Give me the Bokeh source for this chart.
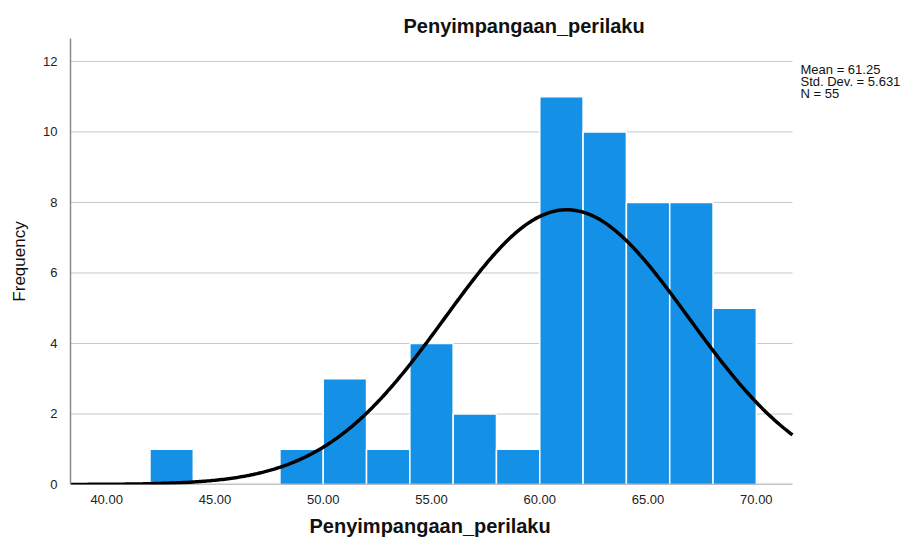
import numpy as np
from bokeh.plotting import figure
from bokeh.models import Range1d, FixedTicker, CustomJSTickFormatter, ColumnDataSource, Label, Title
from bokeh.embed import file_html
from bokeh.resources import INLINE

# ---- data ----
bin_left = [42, 44, 46, 48, 50, 52, 54, 56, 58, 60, 62, 64, 66, 68]
bin_width = 2
counts = [1, 0, 0, 1, 3, 1, 4, 2, 1, 11, 10, 8, 8, 5]
x_ticks = [40, 45, 50, 55, 60, 65, 70]
y_ticks = [0, 2, 4, 6, 8, 10, 12]
mean_val = 61.25
sd_val = 5.631
n_val = 55
title_text = "Penyimpangaan_perilaku"
x_label = "Penyimpangaan_perilaku"
y_label = "Frequency"
stats_lines = ["Mean = 61.25", "Std. Dev. = 5.631", "N = 55"]

FONT = "Liberation Sans"
X0, X1 = 38.33, 71.67          # extent of the chart's own axis
PX_PER_UNIT = 722 / (X1 - X0)  # plot area is 722 px wide
X_END = X1 + 115 / PX_PER_UNIT  # frame continues under the statistics text

p = figure(width=907, height=539, output_backend="svg", toolbar_location=None,
           x_range=Range1d(X0, X_END), y_range=Range1d(0, 12.65),
           min_border_left=70, min_border_right=0, min_border_top=38, min_border_bottom=55)
p.outline_line_color = None
p.background_fill_color = "white"

# title
p.title.text = title_text
p.title.align = "left"
p.title.offset = 333
p.title.text_font = FONT
p.title.text_font_size = "20px"
p.title.text_font_style = "bold"
p.title.text_color = "#111111"
p.title.standoff = 4

# horizontal grid lines limited to the axis extent
grid_y = [t for t in y_ticks if t > 0]
p.segment(x0=[X0] * len(grid_y), x1=[X1] * len(grid_y), y0=grid_y, y1=grid_y,
          line_color="#c8c8c8", line_width=1)

# bars
lefts = [l for l, c in zip(bin_left, counts) if c > 0]
tops = [c for c in counts if c > 0]
src = ColumnDataSource(dict(left=lefts, right=[l + bin_width for l in lefts], top=tops,
                            bottom=[0] * len(tops)))
p.quad(left="left", right="right", top="top", bottom="bottom", source=src,
       fill_color="#1490E6", line_color="white", line_width=1.5)

# bottom axis line limited to the axis extent
p.segment(x0=[X0], x1=[X1], y0=[0], y1=[0], line_color="#8a8a8a", line_width=1.5)

# normal curve from the shown statistics
xs = np.linspace(X0, X1, 400)
ys = n_val * bin_width / (sd_val * np.sqrt(2 * np.pi)) * np.exp(-0.5 * ((xs - mean_val) / sd_val) ** 2)
p.line(xs, ys, line_color="black", line_width=3.5)

# axes
p.xaxis.ticker = FixedTicker(ticks=x_ticks)
p.xaxis.formatter = CustomJSTickFormatter(code="return tick.toFixed(2);")
p.yaxis.ticker = FixedTicker(ticks=y_ticks)
for ax in (p.xaxis, p.yaxis):
    ax.major_tick_line_color = None
    ax.minor_tick_line_color = None
    ax.major_label_text_font = FONT
    ax.major_label_text_font_size = "13px"
    ax.major_label_text_color = "#222222"
p.xaxis.axis_line_color = None
p.yaxis.axis_line_color = "#8a8a8a"
p.yaxis.axis_line_width = 1.5
p.xaxis.major_label_standoff = 4
p.yaxis.major_label_standoff = 7

# x axis title, centred under the axis extent
p.add_layout(Title(text=x_label, align="left", offset=239, text_font=FONT,
                   text_font_size="20px", text_font_style="bold", text_color="#111111",
                   standoff=0, padding=dict(left=0, right=0, top=6, bottom=0)), "below")

p.yaxis.axis_label = y_label
p.yaxis.axis_label_text_font = FONT
p.yaxis.axis_label_text_font_size = "17px"
p.yaxis.axis_label_text_font_style = "normal"
p.yaxis.axis_label_text_color = "#111111"
p.yaxis.axis_label_standoff = 11

p.xgrid.grid_line_color = None
p.ygrid.grid_line_color = None

# statistics text to the right of the axis extent
for i, t in enumerate(stats_lines):
    p.add_layout(Label(x=730, y=415 - i * 12, x_units="screen", y_units="screen", text=t,
                       text_font=FONT, text_font_size="13px", text_align="left",
                       text_baseline="middle", text_color="#111111"))

open("out.html", "w").write(file_html(p, INLINE))
